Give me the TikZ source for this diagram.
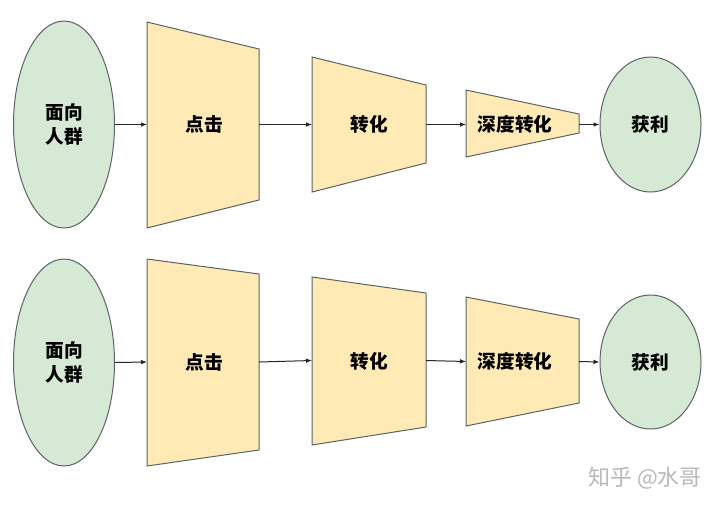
\documentclass[tikz,border=0pt]{standalone}
\usepackage{fontspec}
\newfontfamily\cjk{Noto Sans CJK SC}
\usetikzlibrary{arrows.meta,shapes.geometric}
\definecolor{grnfill}{RGB}{214,233,212}
\definecolor{ylwfill}{RGB}{255,233,180}
\definecolor{edge}{RGB}{90,100,100}
\definecolor{wm}{RGB}{185,185,185}
\begin{document}
\begin{tikzpicture}[x=0.75pt,y=-0.75pt,
  lbl/.style={font=\cjk\bfseries\fontsize{14pt}{18pt}\selectfont, align=center, inner sep=0pt},
  grn/.style={ellipse, draw=edge, fill=grnfill, line width=0.75pt, inner sep=0pt, font=\cjk\bfseries\fontsize{14pt}{18pt}\selectfont, align=center},
  trap/.style={draw=edge, fill=ylwfill, line width=0.75pt, line join=miter},
  conn/.style={draw=black!85, line width=0.75pt, -{Latex[length=4.5pt,width=3.5pt]}}
]
\useasboundingbox (0,0) rectangle (720,508);
\fill[white] (0,0) rectangle (720,508);

% ---------- top row ----------
\node[grn, minimum width=75.75pt, minimum height=155.25pt] (a1) at (64,124.5) {面向\\人群};
\draw[trap] (147,22) -- (259,49) -- (259,200) -- (147,228) -- cycle;
\coordinate (b1l) at (147,124.5); \coordinate (b1r) at (259,124.5);
\node[lbl] (b1) at (204,124.5) {点击};
\draw[trap] (312,57) -- (426,85) -- (426,163) -- (312,192) -- cycle;
\coordinate (c1l) at (312,124.5); \coordinate (c1r) at (426,124.5);
\node[lbl] (c1) at (369,124.5) {转化};
\draw[trap] (466,90) -- (579,114) -- (579,133) -- (466,157) -- cycle;
\coordinate (d1l) at (466,124.5); \coordinate (d1r) at (579,124.5);
\node[lbl] (d1) at (515,124.5) {深度转化};
\node[grn, minimum width=75.75pt, minimum height=101.25pt] (e1) at (650.5,124.5) {获利};
\draw[conn] (a1.east) -- (b1l);
\draw[conn] (b1r) -- (c1l);
\draw[conn] (c1r) -- (d1l);
\draw[conn] (d1r) -- (e1.west);

% ---------- bottom row ----------
\node[grn, minimum width=75.75pt, minimum height=155.25pt] (a2) at (64,362.5) {面向\\人群};
\draw[trap] (147,259) -- (259,274) -- (259,450) -- (147,466) -- cycle;
\coordinate (b2l) at (147,362); \coordinate (b2r) at (259,362);
\node[lbl] (b2) at (204,362) {点击};
\draw[trap] (312,277) -- (426,293) -- (426,427) -- (312,445) -- cycle;
\coordinate (c2l) at (312,360.5); \coordinate (c2r) at (426,360.5);
\node[lbl] (c2) at (369,361) {转化};
\draw[trap] (466,297) -- (579,319) -- (579,403) -- (466,426) -- cycle;
\coordinate (d2l) at (466,361.5); \coordinate (d2r) at (579,361.5);
\node[lbl] (d2) at (515,361.5) {深度转化};
\node[grn, minimum width=75.75pt, minimum height=100.5pt] (e2) at (650.5,362) {获利};
\draw[conn] (a2.east) -- (b2l);
\draw[conn] (b2r) -- (c2l);
\draw[conn] (c2r) -- (d2l);
\draw[conn] (d2r) -- (e2.west);

% watermark
\node[font=\cjk\fontsize{16.5pt}{18pt}\selectfont, text=wm, inner sep=0pt] (wmk) at (645,478) {知乎 @水哥};
\end{tikzpicture}
\end{document}
